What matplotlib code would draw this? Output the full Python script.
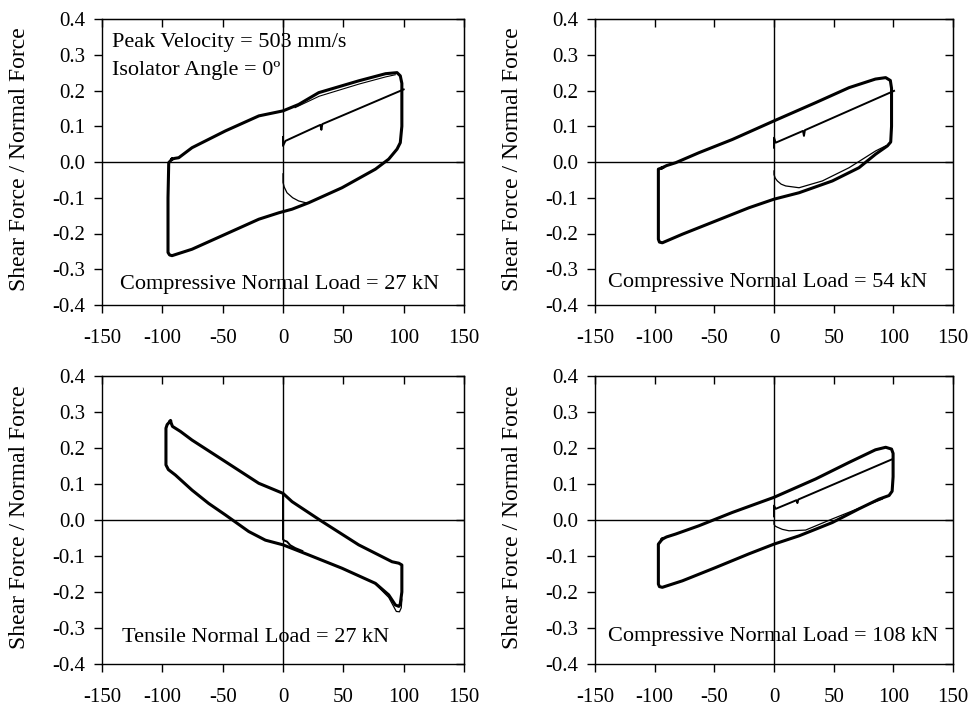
import numpy as np
import matplotlib.pyplot as plt

plt.rcParams['font.family'] = ['Liberation Serif', 'DejaVu Serif']
plt.rcParams['axes.unicode_minus'] = False

# --- Compressive normal load = 27 kN ---
c27_x = [-92, -94.7, -95.3, -95.3, -94, -92, -75.4, -47.7, -20, -3.4, 7.5, 21.3, 48.9, 76.6, 87.6,
         94.5, 97.2, 98.5, 98.5, 97.2, 94.5, 85, 62.7, 29.6, 13, 0, -20, -47.7, -75.4, -86.4, -90, -92]
c27_y = [0.008, -0.002, -0.1, -0.253, -0.26, -0.262, -0.244, -0.202, -0.16, -0.142, -0.132, -0.114,
         -0.072, -0.02, 0.008, 0.036, 0.054, 0.1, 0.22, 0.241, 0.25, 0.247, 0.227, 0.194, 0.161, 0.143,
         0.129, 0.087, 0.04, 0.012, 0.01, 0.008]
c27_init_x = [0, 0, 2, 31, 31.8, 32.6, 100]
c27_init_y = [0.07, 0.045, 0.059, 0.104, 0.09, 0.106, 0.203]
c27_ret_x = [0, 0, 1, 3.3, 8, 13, 20]
c27_ret_y = [-0.033, -0.057, -0.07, -0.086, -0.1, -0.109, -0.115]
c27_band_x = [10, 30, 63, 85, 93]
c27_band_y = [0.152, 0.184, 0.218, 0.238, 0.244]

# --- Compressive normal load = 54 kN ---
c54_x = [-93.6, -96.9, -96.9, -96, -93.6, -76.8, -48.9, -21, 0, 21, 48.9, 71.2, 85.2, 95, 97.8,
         98.5, 98.5, 97.5, 93.6, 85, 62.9, 34.9, 0, -34.9, -62.9, -82.4, -90, -93.6]
c54_y = [-0.016, -0.02, -0.216, -0.224, -0.226, -0.202, -0.165, -0.128, -0.104, -0.086, -0.053, -0.016,
         0.022, 0.045, 0.056, 0.1, 0.206, 0.228, 0.236, 0.232, 0.208, 0.166, 0.115, 0.063, 0.026, -0.002,
         -0.01, -0.016]
c54_init_x = [0, 0, 1.4, 24.3, 25.1, 25.9, 100.6]
c54_init_y = [0.04, 0.068, 0.054, 0.087, 0.073, 0.089, 0.199]
c54_ret_x = [0, 0, 1, 2.8, 6, 9.8, 21, 40.5, 62.9, 85.2, 93.6]
c54_ret_y = [-0.025, -0.035, -0.045, -0.053, -0.062, -0.067, -0.072, -0.053, -0.016, 0.031, 0.045]

# --- Tensile normal load = 27 kN ---
t27_x = [-93.3, -96, -97, -97, -95, -89.2, -75.4, -61.6, -47.7, -28.4, -14.6, 0, 21.3, 48.9, 76.6,
         87.6, 93.1, 96, 97.2, 98.5, 98.5, 96, 90.4, 62.7, 32.3, 7.5, 0, -20.1, -47.7, -75.4, -85,
         -91.6, -93.3]
t27_y = [0.275, 0.265, 0.255, 0.153, 0.14, 0.125, 0.083, 0.046, 0.014, -0.032, -0.056, -0.069, -0.097,
         -0.134, -0.176, -0.208, -0.236, -0.24, -0.233, -0.2, -0.125, -0.12, -0.116, -0.069, -0.004,
         0.051, 0.074, 0.102, 0.162, 0.222, 0.246, 0.26, 0.275]
t27_init_x = [0, 0, 0, 1, 3.3, 6, 10.2, 16]
t27_init_y = [0.071, 0.0, -0.054, -0.057, -0.06, -0.07, -0.078, -0.086]
t27_ret_x = [76.6, 87.6, 93.9, 96.5, 98, 98.5]
t27_ret_y = [-0.178, -0.215, -0.254, -0.255, -0.244, -0.22]

# --- Compressive normal load = 108 kN ---
c108_x = [-93.6, -96.9, -96.9, -96, -93.6, -76.8, -48.9, -21, 0, 21, 48.9, 71.2, 88, 96.4, 99,
          99.8, 99.8, 98.5, 93.6, 85, 62.9, 34.9, 0, -34.9, -62.9, -82.4, -90, -93.6]
c108_y = [-0.053, -0.067, -0.178, -0.185, -0.187, -0.169, -0.132, -0.094, -0.067, -0.044, -0.007, 0.031,
          0.058, 0.068, 0.08, 0.12, 0.185, 0.197, 0.202, 0.195, 0.16, 0.114, 0.063, 0.021, -0.016,
          -0.039, -0.047, -0.053]
c108_init_x = [0, 0, 1.4, 18.8, 19.6, 20.4, 99.2]
c108_init_y = [0.01, 0.04, 0.031, 0.055, 0.047, 0.057, 0.169]
c108_ret_x = [0, 0, 1, 2.8, 7, 12.6, 26.5, 48.9, 76.8, 90.8]
c108_ret_y = [-0.004, -0.012, -0.017, -0.02, -0.026, -0.03, -0.028, 0.003, 0.04, 0.058]

panels = [
    ((102, 464, 19, 305), c27_x, c27_y, c27_init_x, c27_init_y, c27_ret_x, c27_ret_y,
     'Compressive Normal Load = 27 kN', (120, 284)),
    ((595, 953, 19, 305), c54_x, c54_y, c54_init_x, c54_init_y, c54_ret_x, c54_ret_y,
     'Compressive Normal Load = 54 kN', (608, 282)),
    ((102, 464, 376, 664), t27_x, t27_y, t27_init_x, t27_init_y, t27_ret_x, t27_ret_y,
     'Tensile Normal Load = 27 kN', (122, 638)),
    ((595, 953, 376, 664), c108_x, c108_y, c108_init_x, c108_init_y, c108_ret_x, c108_ret_y,
     'Compressive Normal Load = 108 kN', (608, 637)),
]

W, H = 976, 706
fig = plt.figure(figsize=(W / 100, H / 100), dpi=100)
yt = np.round(np.arange(-0.4, 0.41, 0.1), 1) + 0.0

axes = []
for (x0, x1, y0, y1), lx, ly, ix, iy, rx, ry, label, (tx, ty) in panels:
    ax = fig.add_axes([x0 / W, 1 - y1 / H, (x1 - x0) / W, (y1 - y0) / H])
    axes.append(ax)
    ax.axhline(0, color='k', lw=1)
    ax.axvline(0, color='k', lw=1)
    ax.plot(lx, ly, color='k', lw=2.2, solid_joinstyle='round')
    ax.plot(ix, iy, color='k', lw=1.4)
    ax.plot(rx, ry, color='k', lw=0.9)
    ax.set_xlim(-150, 150)
    ax.set_ylim(-0.4, 0.4)
    ax.set_xticks(np.arange(-150, 151, 50))
    ax.set_yticks(yt)
    ax.set_yticklabels(['%.1f' % (v + 0.0) for v in yt])
    ax.tick_params(axis='x', direction='out', length=6, width=1, labelsize=15, pad=11)
    ax.tick_params(axis='y', direction='out', length=6, width=1, labelsize=15, pad=6)
    for sp in ax.spines.values():
        sp.set_linewidth(1)
    top = ax.secondary_xaxis('top')
    top.set_xticks(np.arange(-150, 151, 50))
    top.tick_params(direction='in', length=6, width=1, labeltop=False)
    right = ax.secondary_yaxis('right')
    right.set_yticks(yt)
    right.tick_params(direction='in', length=6, width=1, labelright=False)
    fig.text(tx / W, 1 - ty / H, label, fontsize=16, ha='left', va='center')
    fig.text((x0 - 82) / W, 1 - ((y0 + y1) / 2 - 3) / H, 'Shear Force / Normal Force',
             fontsize=17, rotation=90, ha='center', va='center')

axes[0].plot(c27_band_x, c27_band_y, color='k', lw=0.8)

fig.text(112 / W, 1 - 43 / H, 'Peak Velocity = 503 mm/s', fontsize=16, ha='left', va='center')
fig.text(112 / W, 1 - 70 / H, 'Isolator Angle = 0º', fontsize=16, ha='left', va='center')

plt.savefig('out.png', dpi=100)
